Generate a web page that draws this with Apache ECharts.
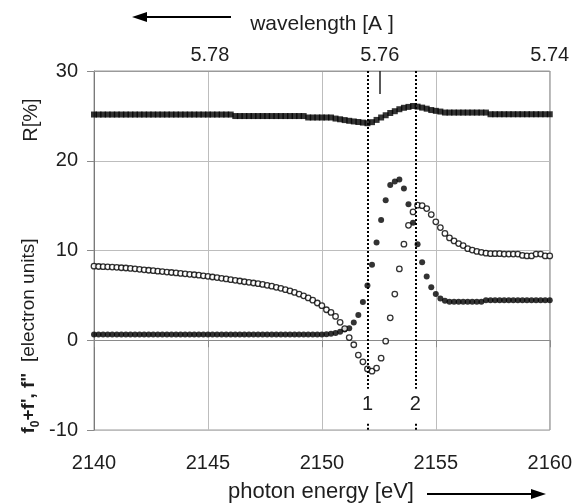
<!DOCTYPE html>
<html>
<head>
<meta charset="utf-8">
<script src="https://cdn.jsdelivr.net/npm/echarts@6/dist/echarts.min.js"></script>
<style>
  html, body { margin: 0; padding: 0; background: #fff; }
  #chart { width: 575px; height: 504px; }
</style>
</head>
<body>
<div id="chart"></div>
<script>
// photon energy grid [eV]
var energy = [
  2140.0,2140.2,2140.4,2140.6,2140.8,2141.0,2141.2,2141.4,2141.6,2141.8,
  2142.0,2142.2,2142.4,2142.6,2142.8,2143.0,2143.2,2143.4,2143.6,2143.8,
  2144.0,2144.2,2144.4,2144.6,2144.8,2145.0,2145.2,2145.4,2145.6,2145.8,
  2146.0,2146.2,2146.4,2146.6,2146.8,2147.0,2147.2,2147.4,2147.6,2147.8,
  2148.0,2148.2,2148.4,2148.6,2148.8,2149.0,2149.2,2149.4,2149.6,2149.8,
  2150.0,2150.2,2150.4,2150.6,2150.8,2151.0,2151.2,2151.4,2151.6,2151.8,
  2152.0,2152.2,2152.4,2152.6,2152.8,2153.0,2153.2,2153.4,2153.6,2153.8,
  2154.0,2154.2,2154.4,2154.6,2154.8,2155.0,2155.2,2155.4,2155.6,2155.8,
  2156.0,2156.2,2156.4,2156.6,2156.8,2157.0,2157.2,2157.4,2157.6,2157.8,
  2158.0,2158.2,2158.4,2158.6,2158.8,2159.0,2159.2,2159.4,2159.6,2159.8,
  2160.0
];
// R [%]  (filled squares)
var refl = [
  25.15,25.15,25.15,25.15,25.15,25.15,25.15,25.15,25.15,25.15,
  25.15,25.15,25.15,25.15,25.15,25.15,25.15,25.15,25.15,25.15,
  25.15,25.15,25.15,25.15,25.15,25.15,25.15,25.15,25.15,25.15,
  25.15,24.98,24.98,24.98,24.98,24.98,24.98,24.98,24.98,24.98,
  24.98,24.98,24.98,24.98,24.98,24.98,24.98,24.82,24.82,24.82,
  24.82,24.82,24.82,24.70,24.62,24.53,24.45,24.38,24.32,24.25,
  24.18,24.30,24.55,24.82,25.07,25.32,25.52,25.74,25.90,26.00,
  26.10,26.03,25.92,25.80,25.65,25.56,25.48,25.37,25.37,25.37,
  25.37,25.37,25.37,25.37,25.37,25.37,25.37,25.18,25.18,25.18,
  25.18,25.18,25.18,25.18,25.18,25.18,25.18,25.18,25.18,25.18,
  25.18
];
// f'' (filled circles)
var fDouble = [
  0.65,0.65,0.65,0.65,0.65,0.65,0.65,0.65,0.65,0.65,
  0.65,0.65,0.65,0.65,0.65,0.65,0.65,0.65,0.65,0.65,
  0.65,0.65,0.65,0.65,0.65,0.65,0.65,0.65,0.65,0.65,
  0.65,0.65,0.65,0.65,0.65,0.65,0.65,0.65,0.65,0.65,
  0.65,0.65,0.65,0.65,0.65,0.65,0.65,0.65,0.65,0.65,
  0.65,0.68,0.72,0.80,0.95,1.20,1.35,1.97,2.80,4.27,
  6.10,8.40,10.90,13.40,15.60,17.30,17.70,17.90,16.90,15.15,
  13.10,10.70,8.70,7.10,5.90,5.15,4.65,4.40,4.30,4.28,
  4.28,4.28,4.28,4.28,4.28,4.28,4.45,4.45,4.45,4.45,
  4.45,4.45,4.45,4.45,4.45,4.45,4.45,4.45,4.45,4.45,
  4.45
];
// f0+f' (open circles)
var fPrime = [
  8.25,8.22,8.20,8.18,8.15,8.12,8.08,8.05,8.00,7.96,
  7.90,7.85,7.80,7.75,7.70,7.65,7.60,7.55,7.50,7.45,
  7.40,7.35,7.30,7.25,7.18,7.12,7.05,6.98,6.90,6.83,
  6.75,6.68,6.60,6.52,6.45,6.38,6.30,6.22,6.12,6.02,
  5.90,5.78,5.64,5.50,5.33,5.15,4.95,4.72,4.46,4.15,
  3.85,3.40,3.10,2.65,2.00,1.30,0.30,-0.50,-1.65,-2.40,
  -3.20,-3.45,-3.10,-2.00,-0.10,2.50,5.15,7.95,10.70,12.80,
  14.30,15.05,15.00,14.67,14.00,13.20,12.55,11.90,11.40,11.07,
  10.77,10.55,10.20,10.05,9.90,9.80,9.70,9.65,9.65,9.65,
  9.60,9.60,9.60,9.60,9.45,9.40,9.40,9.60,9.60,9.40,
  9.40
];
// marked energies (dotted lines 1 and 2)
var markE = [2152.0, 2154.1];
var markNames = ['1', '2'];
// wavelength tick labels [A]
var waveTicks = [5.74, 5.76, 5.78];

function pairs(ys) {
  var out = [];
  for (var i = 0; i < energy.length; i++) out.push([energy[i], ys[i]]);
  return out;
}

var FONT = 'Liberation Sans, Arial, sans-serif';
var TXT = '#1e1e1e';

// dotted lines: long piece with label, short piece under the label
var markData = [];
markE.forEach(function (e, k) {
  markData.push([
    { coord: [e, 30], label: { show: true, position: 'end', formatter: markNames[k], distance: 6,
      fontSize: 20, fontFamily: FONT, color: TXT } },
    { coord: [e, -5.4] }
  ]);
  markData.push([
    { coord: [e, -9.3], label: { show: false } },
    { coord: [e, -10] }
  ]);
});

var chart = echarts.init(document.getElementById('chart'));
chart.setOption({
  animation: false,
  backgroundColor: '#fff',
  grid: { left: 94, right: 24, top: 71, bottom: 74, show: true, borderColor: '#9a9a9a', borderWidth: 1 },
  xAxis: [
    {
      type: 'value', position: 'bottom', min: 2140, max: 2160, interval: 5,
      axisLine: { show: true, lineStyle: { color: '#8a8a8a' } },
      axisTick: { show: true, length: 7, lineStyle: { color: '#8a8a8a' } },
      axisLabel: { fontSize: 20, fontFamily: FONT, color: TXT, margin: 23,
        formatter: function (v) { return String(v); } },
      splitLine: { show: true, lineStyle: { color: '#bdbdbd' } }
    },
    {
      type: 'value', position: 'top', inverse: true, min: 5.74, max: 5.79364,
      axisLine: { show: true, lineStyle: { color: '#9a9a9a' } },
      axisTick: { show: true, inside: true, length: 23, customValues: [5.76],
        lineStyle: { color: '#222', width: 1.5 } },
      axisLabel: { fontSize: 20, fontFamily: FONT, color: TXT, margin: 6,
        customValues: waveTicks, formatter: function (v) { return v.toFixed(2); } },
      splitLine: { show: false }
    }
  ],
  yAxis: {
    type: 'value', min: -10, max: 30, interval: 10,
    axisLine: { show: true, lineStyle: { color: '#7a7a7a' } },
    axisTick: { show: true, length: 7, lineStyle: { color: '#8a8a8a' } },
    axisLabel: { fontSize: 20, fontFamily: FONT, color: TXT, margin: 16 },
    splitLine: { show: true, lineStyle: { color: '#bdbdbd' } }
  },
  series: [
    {
      name: 'R', type: 'scatter', xAxisIndex: 0, data: pairs(refl),
      symbol: 'rect', symbolSize: 6, itemStyle: { color: '#000' }, silent: true
    },
    {
      name: "f''", type: 'scatter', xAxisIndex: 0, data: pairs(fDouble),
      symbol: 'circle', symbolSize: 6, itemStyle: { color: '#000' }, silent: true,
      markLine: {
        silent: true, symbol: 'none',
        lineStyle: { color: '#000', width: 2, type: [2, 2] },
        data: markData
      }
    },
    {
      name: "f0+f'", type: 'scatter', xAxisIndex: 0, data: pairs(fPrime),
      symbol: 'circle', symbolSize: 5.5,
      itemStyle: { color: '#fff', borderColor: '#000', borderWidth: 1.3 }, silent: true
    }
  ],
  graphic: [
    { type: 'text', x: 322, y: 24, style: { text: 'wavelength [A ]', fontSize: 21, fontFamily: FONT,
      fill: TXT, align: 'center', verticalAlign: 'middle' } },
    { type: 'line', shape: { x1: 231, y1: 17, x2: 142, y2: 17 }, style: { stroke: '#000', lineWidth: 2 } },
    { type: 'polygon', shape: { points: [[132, 17], [147, 12], [147, 22]] }, style: { fill: '#000' } },
    { type: 'text', x: 321, y: 492, style: { text: 'photon energy [eV]', fontSize: 22, fontFamily: FONT,
      fill: TXT, align: 'center', verticalAlign: 'middle' } },
    { type: 'line', shape: { x1: 427, y1: 494, x2: 535, y2: 494 }, style: { stroke: '#000', lineWidth: 2 } },
    { type: 'polygon', shape: { points: [[546, 494], [531, 489], [531, 499]] }, style: { fill: '#000' } },
    { type: 'text', x: 31, y: 120, rotation: Math.PI / 2, style: { text: 'R[%]', fontSize: 20, fontFamily: FONT,
      fill: TXT, align: 'center', verticalAlign: 'middle' } },
    { type: 'text', x: 29, y: 336, rotation: Math.PI / 2, style: {
      text: '{b|f}{sub|0}{b|+f\', f"}  [electron units]',
      fontSize: 19, fontFamily: FONT, fill: TXT, align: 'center', verticalAlign: 'middle',
      rich: {
        b: { fontSize: 19, fontWeight: 'bold', fontFamily: FONT, fill: TXT, lineHeight: 25 },
        sub: { fontSize: 12, fontWeight: 'bold', fontFamily: FONT, fill: TXT, verticalAlign: 'bottom', lineHeight: 25 }
      }
    } }
  ]
});
</script>
</body>
</html>
